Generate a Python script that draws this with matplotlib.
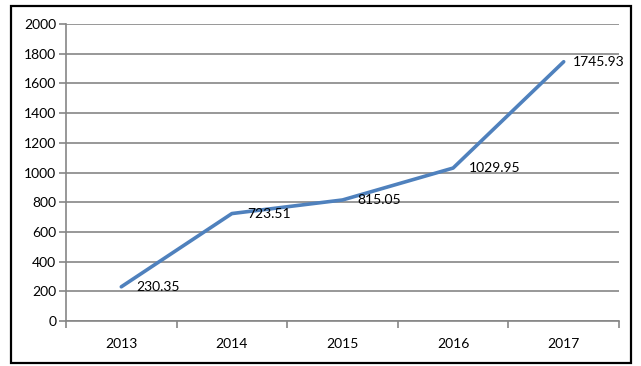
import matplotlib.pyplot as plt
import numpy as np
from matplotlib.patches import Rectangle

# data
years = ['2013', '2014', '2015', '2016', '2017']
values = [230.35, 723.51, 815.05, 1029.95, 1745.93]
yticks = list(range(0, 2001, 200))

W, H = 641, 366
fig = plt.figure(figsize=(W / 100, H / 100), dpi=100)
plt.rcParams['font.family'] = ['Lato', 'DejaVu Sans']

# outer frame
fig.patches.append(Rectangle((11 / W, 1 - 363 / H), 620 / W, 357 / H,
                             transform=fig.transFigure, fill=False,
                             edgecolor='black', linewidth=1.6))

ax = fig.add_axes([66 / W, 1 - 321 / H, (619 - 66) / W, (321 - 24) / H])
grid_c = '#868686'
x = np.arange(len(years))
ax.plot(x, values, color='#4F81BD', linewidth=2.6, solid_capstyle='round', zorder=3)
for xi, v in zip(x, values):
    # last label is pulled in so it stays inside the frame
    dx = 11 if xi < len(years) - 1 else 6.5
    ax.annotate(f'{v:.2f}', (xi, v), xytext=(dx, 0), textcoords='offset points',
                va='center', ha='left', fontsize=10, color='black')

ax.set_xlim(-0.5, len(years) - 0.5)
ax.set_ylim(0, 2000)
ax.set_yticks(yticks)
ax.set_yticklabels([str(t) for t in yticks], fontsize=10)
ax.set_xticks(x)
ax.set_xticklabels(years, fontsize=10)
ax.set_xticks(np.arange(-0.5, len(years)), minor=True)
ax.tick_params(axis='x', which='major', length=0, pad=12)
ax.tick_params(axis='x', which='minor', length=5, color=grid_c, width=1.2, direction='out')
ax.tick_params(axis='y', length=5, color=grid_c, width=1.2, pad=2)
ax.yaxis.grid(True, color=grid_c, linewidth=1.2)
ax.set_axisbelow(True)
for s in ['top', 'right']:
    ax.spines[s].set_visible(False)
for s in ['left', 'bottom']:
    ax.spines[s].set_color(grid_c)
    ax.spines[s].set_linewidth(1.2)

fig.savefig('out.png', dpi=100)
